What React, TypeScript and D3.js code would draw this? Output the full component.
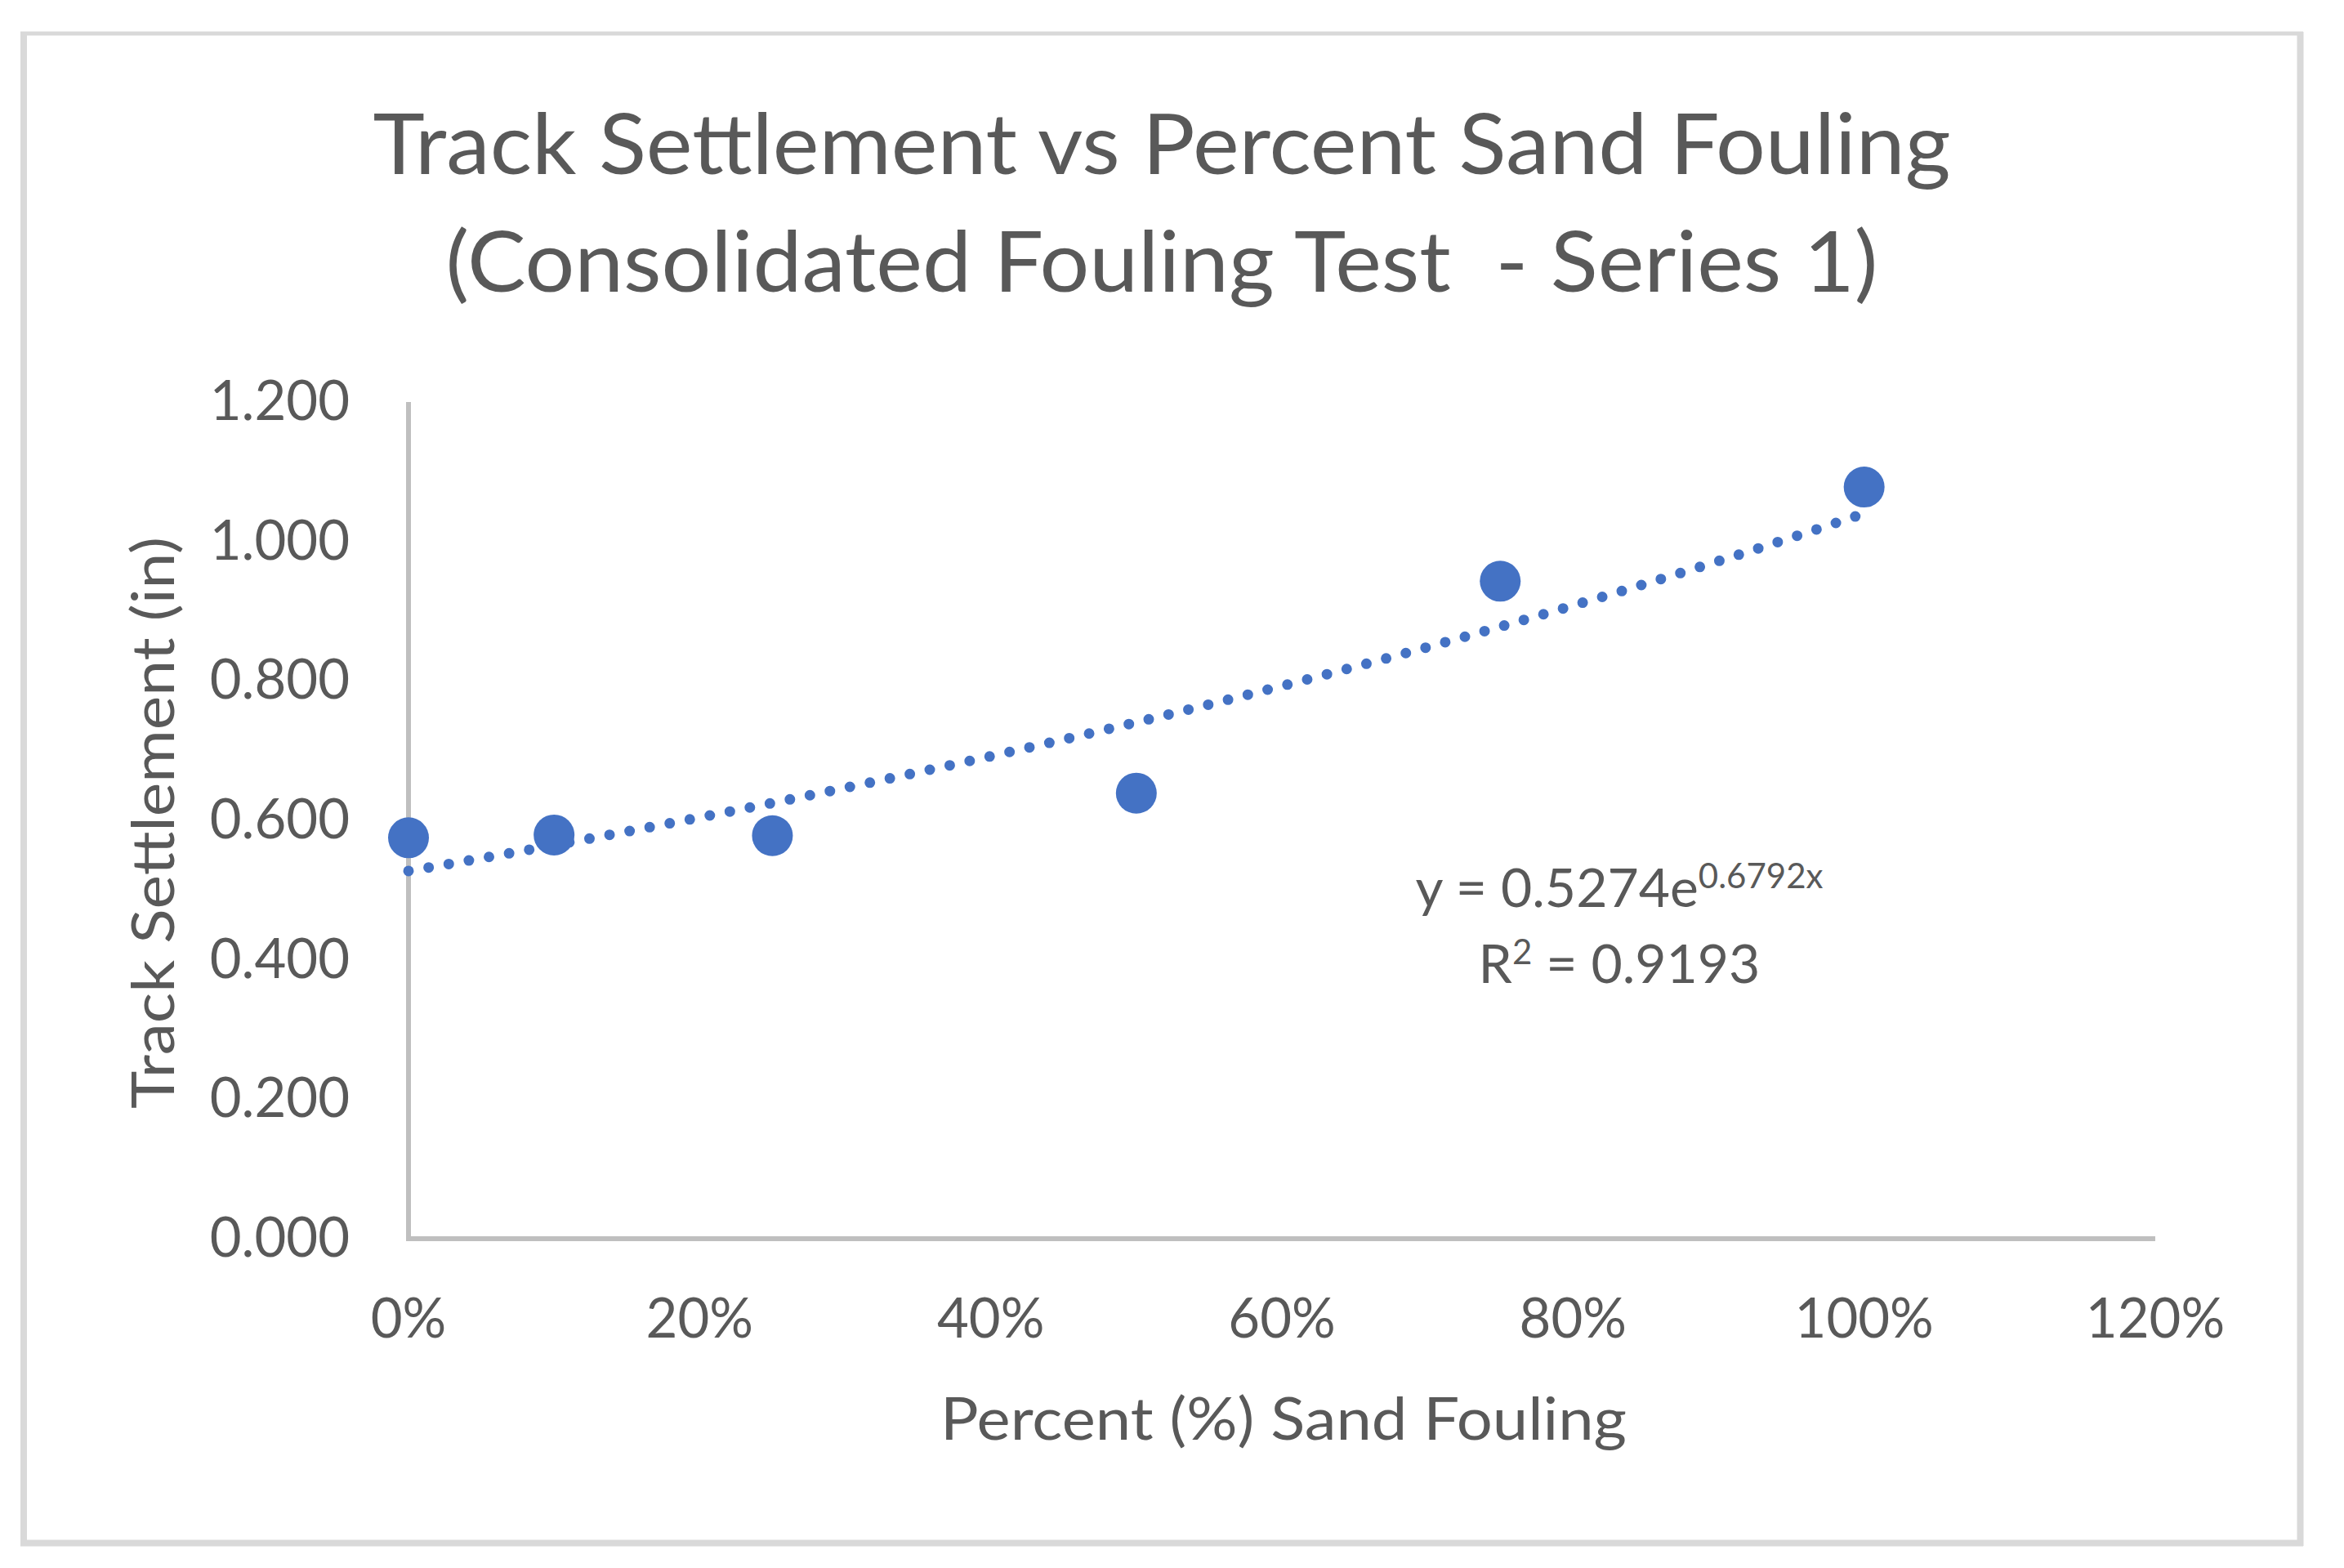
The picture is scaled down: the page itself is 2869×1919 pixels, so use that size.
import React from "react";
import * as d3 from "d3";

const titleLines = ["Track Settlement vs Percent Sand Fouling", "(Consolidated Fouling Test  - Series 1)"];
const xAxisTitle = "Percent (%) Sand Fouling";
const yAxisTitle = "Track Settlement (in)";
const percentFouling = [0, 0.1, 0.25, 0.5, 0.75, 1.0];
const settlement = [0.575, 0.579, 0.578, 0.639, 0.943, 1.078];
const xTicks = [0, 0.2, 0.4, 0.6, 0.8, 1.0, 1.2];
const yTicks = [0, 0.2, 0.4, 0.6, 0.8, 1.0, 1.2];
const trendA = 0.5274;
const trendB = 0.6792;
const trendR2 = "0.9193";

const W = 2869;
const H = 1919;
const FONT = "Lato, 'Open Sans', sans-serif";
const TEXT = "#595959";
const BLUE = "#4472C4";

export default function App() {
  const x = d3.scaleLinear().domain([0, 1.2]).range([500, 2638]);
  const y = d3.scaleLinear().domain([0, 1.2]).range([1516, 492]);

  const trendX = d3.range(0, 1.0001, 0.01);
  const trendPath = d3
    .line<number>()
    .x((d) => x(d))
    .y((d) => y(trendA * Math.exp(trendB * d)))
    .curve(d3.curveLinear)(trendX) as string;

  return (
    <svg
      width={W}
      height={H}
      style={{ position: "absolute", left: 0, top: 0, background: "#fff" }}
    >
      <rect x={0} y={0} width={W} height={H} fill="#fff" />
      {/* outer frame */}
      <line x1={25} x2={2819} y1={41} y2={41} stroke="#d9d9d9" strokeWidth={5} />
      <line x1={29} x2={29} y1={39} y2={1892} stroke="#d9d9d9" strokeWidth={8} />
      <line x1={2815.5} x2={2815.5} y1={39} y2={1892} stroke="#d9d9d9" strokeWidth={8} />
      <line x1={25} x2={2819} y1={1888.5} y2={1888.5} stroke="#d9d9d9" strokeWidth={8} />

      {/* title */}
      <text
        x={1422}
        y={213}
        textAnchor="middle"
        fontFamily={FONT}
        fontSize={102}
        fill={TEXT}
        textLength={1931}
        lengthAdjust="spacingAndGlyphs"
      >
        {titleLines[0]}
      </text>
      <text
        x={1422}
        y={357}
        textAnchor="middle"
        fontFamily={FONT}
        fontSize={102}
        fill={TEXT}
        textLength={1753}
        lengthAdjust="spacingAndGlyphs"
        style={{ whiteSpace: "pre" }}
      >
        {titleLines[1]}
      </text>

      {/* axes */}
      <line x1={x(0)} x2={x(0)} y1={y(1.2)} y2={y(0)} stroke="#bfbfbf" strokeWidth={6} />
      <line x1={x(0) - 3} x2={x(1.2)} y1={y(0)} y2={y(0)} stroke="#bfbfbf" strokeWidth={6} />

      {/* y tick labels */}
      {yTicks.map((t) => (
        <text
          key={"y" + t}
          x={428}
          y={y(t) + 22}
          textAnchor="end"
          fontFamily={FONT}
          fontSize={67}
          fill={TEXT}
        >
          {d3.format(".3f")(t)}
        </text>
      ))}

      {/* x tick labels */}
      {xTicks.map((t) => (
        <text
          key={"x" + t}
          x={x(t)}
          y={1637}
          textAnchor="middle"
          fontFamily={FONT}
          fontSize={67}
          fill={TEXT}
        >
          {d3.format(".0%")(t)}
        </text>
      ))}

      {/* axis titles */}
      <text
        x={1571}
        y={1762}
        textAnchor="middle"
        fontFamily={FONT}
        fontSize={72}
        fill={TEXT}
        textLength={840}
        lengthAdjust="spacingAndGlyphs"
      >
        {xAxisTitle}
      </text>
      <text
        transform={`translate(213, 1007) rotate(-90)`}
        x={0}
        y={0}
        textAnchor="middle"
        fontFamily={FONT}
        fontSize={71}
        fill={TEXT}
        textLength={700}
        lengthAdjust="spacingAndGlyphs"
      >
        {yAxisTitle}
      </text>

      {/* trendline */}
      <path
        d={trendPath}
        fill="none"
        stroke={BLUE}
        strokeWidth={13}
        strokeLinecap="round"
        strokeDasharray="0 25"
      />

      {/* points */}
      {percentFouling.map((p, i) => (
        <circle key={"p" + i} cx={x(p)} cy={y(settlement[i])} r={25} fill={BLUE} />
      ))}

      {/* equation */}
      <text x={1982} y={1110} textAnchor="middle" fontFamily={FONT} fill={TEXT}>
        <tspan fontSize={66}>{`y = ${trendA}e`}</tspan>
        <tspan fontSize={42} dy={-23}>{`${trendB}x`}</tspan>
      </text>
      <text x={1982} y={1203} textAnchor="middle" fontFamily={FONT} fill={TEXT}>
        <tspan fontSize={66}>R</tspan>
        <tspan fontSize={42} dy={-23}>2</tspan>
        <tspan fontSize={66} dy={23}>{` = ${trendR2}`}</tspan>
      </text>
    </svg>
  );
}
